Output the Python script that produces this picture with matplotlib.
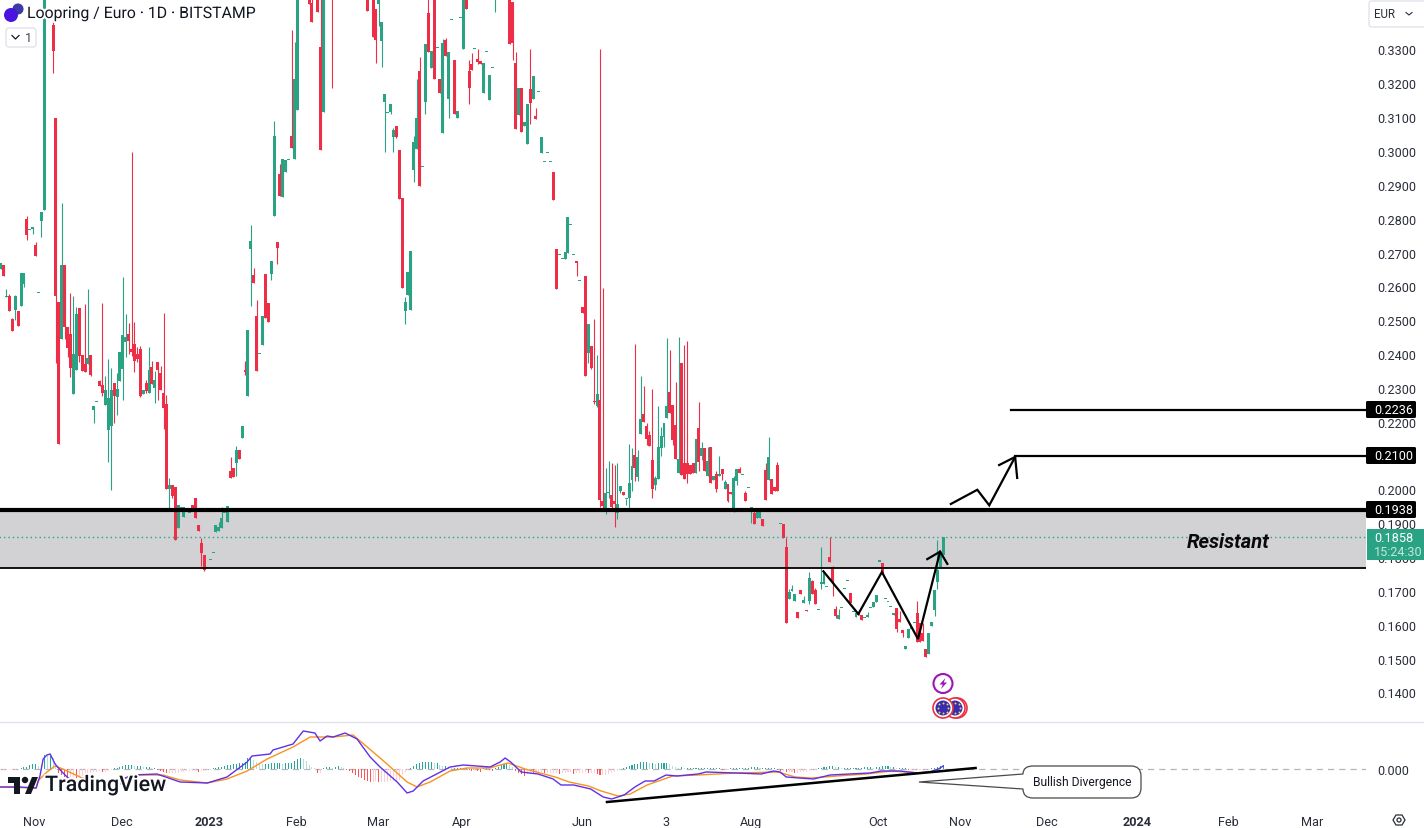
import numpy as np
import matplotlib
matplotlib.use('Agg')
from matplotlib import pyplot as plt
from matplotlib.patches import Circle, FancyBboxPatch, PathPatch, Polygon, Rectangle
from matplotlib.path import Path
import matplotlib.patheffects as pe

plt.rcParams['font.family'] = ['Roboto', 'DejaVu Sans']

# daily candles, left to right (values above 0.345 run off the top of the chart)
opens = [
    .2652,.2664,.2569,.2572,.2504,.2530,.2527,.2542,.2607,.2800,
    .2767,.2771,.2723,.2579,.2794,.2826,.3520,.3540,.3371,.3099,
    .2554,.2445,.2664,.2480,.2459,.2282,.2353,.2536,.2397,.2370,
    .2370,.2397,.2234,.2258,.2320,.2308,.2249,.2175,.2187,.2314,
    .2273,.2320,.2356,.2436,.2459,.2415,.2430,.2400,.2415,.2282,
    .2314,.2285,.2362,.2299,.2376,.2344,.2285,.2252,.2001,.2012,
    .2006,.1885,.1944,.1918,.1939,.1930,.1953,.1974,.1894,.1841,
    .1805,.1767,.1790,.1811,.1873,.1876,.1885,.1930,.1903,.2054,
    .2063,.2077,.2116,.2151,.2353,.2276,.2711,.2634,.2513,.2400,
    .2427,.2637,.2551,.2637,.2809,.2732,.2933,.2865,.2939,.2974,
    .3045,.2977,.3122,.3520,.3520,.3520,.3500,.3436,.3540,.3500,
    .3306,.3114,.3540,.3540,.3470,.3540,.3540,.3540,.3540,.3540,
    .3540,.3540,.3540,.3540,.3540,.3540,.3500,.3448,.3500,.3421,
    .3433,.3324,.3146,.3113,.3116,.3040,.3075,.3004,.2862,.2527,
    .2575,.2530,.2945,.3007,.3235,.2954,.3146,.3407,.3244,.3470,
    .3303,.3214,.3054,.3327,.3155,.3386,.3270,.3099,.3392,.3300,
    .3470,.3235,.3256,.3300,.3273,.3267,.3170,.3294,.3152,.3244,
    .3460,.3540,.3540,.3540,.3540,.3500,.3439,.3259,.3105,.3187,
    .3075,.3022,.3182,.3155,.3102,.3173,.2995,.2968,.2995,.2968,
    .2939,.2711,.2693,.2681,.2681,.2699,.2782,.2693,.2675,.2616,
    .2539,.2631,.2403,.2424,.2261,.2246,.2264,.1965,.1932,.1989,
    .1983,.1965,.1930,.1995,.1992,.1971,.1974,.2027,.2101,.2036,
    .2163,.2223,.2187,.2160,.2086,.2012,.2030,.2122,.2154,.2211,
    .2288,.2249,.2190,.2048,.2374,.2078,.2078,.2072,.2078,.2048,
    .2181,.2098,.2122,.2039,.2125,.2027,.2045,.2039,.2060,.2001,
    .2015,.1992,.1932,.2024,.2060,.2042,.1989,.2004,.1939,.1930,
    .1915,.1915,.1912,.2057,.2027,.2030,.2006,.2072,.1897,.1897,
    .1829,.1675,.1701,.1669,.1639,.1704,.1663,.1645,.1669,.1728,
    .1704,.1645,.1722,.1722,.1713,.1799,.1770,.1648,.1616,.1651,
    .1707,.1728,.1693,.1639,.1622,.1639,.1630,.1619,.1622,.1651,
    .1654,.1666,.1787,.1784,.1675,.1666,.1654,.1630,.1651,.1616,
    .1586,.1527,.1562,.1589,.1604,.1636,.1604,.1577,.1527,.1515,
    .1596,.1645,.1725,.1770,.1805]
highs = [
    .2670,.2664,.2592,.2578,.2507,.2575,.2527,.2640,.2640,.2809,
    .2767,.2776,.2732,.2579,.2820,.3500,.3560,.3540,.3395,.3099,
    .2554,.2847,.2664,.2480,.2581,.2572,.2539,.2536,.2397,.2548,
    .2592,.2397,.2246,.2258,.2323,.2551,.2335,.2385,.2359,.2314,
    .2344,.2406,.2628,.2519,.2492,.2998,.2495,.2421,.2424,.2294,
    .2323,.2421,.2379,.2350,.2376,.2365,.2521,.2279,.2033,.2012,
    .2006,.1953,.1944,.1947,.1939,.1930,.1953,.1974,.1894,.1855,
    .1805,.1767,.1790,.1811,.1894,.1903,.1947,.1930,.1950,.2095,
    .2063,.2128,.2116,.2187,.2379,.2471,.2782,.2655,.2560,.2400,
    .2513,.2637,.2551,.2675,.3090,.2732,.2963,.2977,.2974,.2974,
    .3359,.3321,.3500,.3560,.3560,.3560,.3500,.3460,.3540,.3500,
    .3500,.3500,.3540,.3540,.3470,.3540,.3540,.3540,.3540,.3540,
    .3540,.3540,.3540,.3540,.3540,.3540,.3500,.3448,.3500,.3421,
    .3500,.3380,.3167,.3113,.3140,.3069,.3075,.3004,.2862,.2569,
    .2643,.2705,.3045,.3214,.3279,.2954,.3315,.3460,.3297,.3470,
    .3303,.3214,.3330,.3335,.3294,.3386,.3270,.3119,.3392,.3470,
    .3470,.3270,.3291,.3300,.3300,.3267,.3259,.3294,.3226,.3244,
    .3500,.3540,.3540,.3540,.3540,.3500,.3439,.3294,.3187,.3187,
    .3087,.3140,.3300,.3223,.3128,.3173,.3040,.2968,.2995,.2968,
    .2939,.2711,.2693,.2681,.2702,.2806,.2782,.2693,.2675,.2616,
    .2539,.2631,.2489,.2424,.2504,.2397,.3300,.2596,.2063,.2084,
    .2078,.2072,.2078,.2009,.1992,.1971,.2134,.2122,.2430,.2116,
    .2335,.2305,.2196,.2172,.2297,.2039,.2246,.2184,.2196,.2448,
    .2412,.2249,.2317,.2450,.2374,.2427,.2439,.2072,.2078,.2149,
    .2258,.2140,.2122,.2125,.2125,.2039,.2054,.2098,.2060,.2027,
    .2015,.1992,.2039,.2060,.2066,.2042,.1995,.2004,.1947,.1938,
    .1935,.1935,.1912,.2078,.2154,.2030,.2006,.2081,.1897,.1897,
    .1855,.1707,.1719,.1690,.1639,.1704,.1684,.1645,.1755,.1733,
    .1710,.1645,.1829,.1752,.1713,.1858,.1773,.1657,.1648,.1651,
    .1707,.1728,.1693,.1639,.1636,.1639,.1630,.1619,.1639,.1651,
    .1666,.1687,.1787,.1784,.1675,.1666,.1654,.1636,.1651,.1642,
    .1586,.1536,.1589,.1589,.1604,.1669,.1604,.1604,.1527,.1577,
    .1607,.1702,.1852,.1814,.1858]
lows = [
    .2652,.2631,.2569,.2527,.2468,.2501,.2483,.2542,.2598,.2738,
    .2767,.2755,.2690,.2579,.2746,.2826,.3520,.3500,.3232,.2374,
    .2134,.2445,.2445,.2391,.2332,.2282,.2353,.2376,.2350,.2347,
    .2370,.2335,.2196,.2258,.2305,.2276,.2249,.2080,.1998,.2196,
    .2220,.2320,.2264,.2391,.2400,.2394,.2347,.2376,.2273,.2282,
    .2285,.2285,.2311,.2255,.2264,.2294,.2178,.2001,.1944,.1974,
    .1852,.1885,.1944,.1918,.1939,.1930,.1944,.1915,.1876,.1773,
    .1758,.1767,.1790,.1811,.1873,.1876,.1885,.1930,.1903,.2033,
    .2036,.2039,.2089,.2151,.2338,.2276,.2542,.2610,.2350,.2400,
    .2427,.2507,.2495,.2619,.2809,.2667,.2868,.2865,.2939,.2974,
    .3010,.2977,.3122,.3520,.3520,.3520,.3433,.3380,.3500,.3410,
    .3004,.3114,.3500,.3500,.3185,.3500,.3500,.3500,.3500,.3500,
    .3500,.3500,.3500,.3500,.3500,.3500,.3415,.3448,.3338,.3261,
    .3368,.3247,.2998,.3113,.3110,.2998,.3037,.2859,.2595,.2489,
    .2575,.2530,.2909,.3007,.2897,.2954,.3110,.3294,.3244,.3214,
    .3303,.3170,.3054,.3282,.3099,.3386,.3108,.3099,.3392,.3300,
    .3421,.3140,.3238,.3300,.3256,.3256,.3170,.3294,.3152,.3244,
    .3412,.3500,.3500,.3500,.3500,.3315,.3270,.3066,.3105,.3057,
    .3075,.3022,.3081,.3155,.3096,.3173,.2995,.2968,.2995,.2968,
    .2856,.2592,.2693,.2681,.2681,.2699,.2782,.2693,.2631,.2616,
    .2521,.2335,.2374,.2356,.2252,.2243,.1947,.1938,.1927,.1974,
    .1935,.1888,.1912,.1989,.1983,.1953,.1944,.1995,.2024,.2024,
    .2163,.2199,.2131,.2128,.1974,.1998,.2030,.2100,.2125,.2211,
    .2226,.2131,.2089,.2048,.2042,.2030,.2018,.2045,.2048,.2048,
    .2054,.2086,.2054,.2039,.2018,.2027,.1992,.2039,.2027,.2001,
    .1962,.1986,.1932,.2012,.2048,.2042,.1965,.2004,.1900,.1897,
    .1915,.1915,.1891,.1968,.2027,.1986,.1995,.1995,.1897,.1855,
    .1604,.1675,.1701,.1669,.1619,.1690,.1663,.1640,.1660,.1690,
    .1660,.1645,.1707,.1722,.1713,.1785,.1684,.1619,.1616,.1651,
    .1707,.1728,.1663,.1639,.1622,.1628,.1613,.1619,.1622,.1651,
    .1654,.1666,.1787,.1749,.1675,.1666,.1654,.1630,.1580,.1607,
    .1565,.1527,.1562,.1589,.1604,.1548,.1548,.1553,.1506,.1515,
    .1596,.1625,.1707,.1770,.1805]
closes = [
    .2670,.2631,.2569,.2527,.2468,.2572,.2483,.2640,.2640,.2752,
    .2767,.2776,.2690,.2579,.2820,.3500,.3560,.3500,.3297,.2572,
    .2134,.2664,.2480,.2418,.2359,.2400,.2519,.2394,.2350,.2347,
    .2388,.2338,.2246,.2258,.2305,.2285,.2294,.2270,.2294,.2276,
    .2297,.2406,.2456,.2450,.2439,.2406,.2379,.2385,.2276,.2294,
    .2291,.2353,.2311,.2323,.2353,.2294,.2240,.2001,.2012,.1980,
    .1852,.1953,.1944,.1947,.1939,.1930,.1944,.1915,.1876,.1811,
    .1761,.1767,.1790,.1811,.1894,.1888,.1915,.1930,.1950,.2033,
    .2036,.2116,.2089,.2187,.2347,.2471,.2735,.2610,.2350,.2400,
    .2513,.2507,.2495,.2675,.3045,.2714,.2868,.2977,.2974,.2974,
    .3010,.3214,.3500,.3560,.3560,.3560,.3433,.3380,.3500,.3410,
    .3004,.3500,.3500,.3500,.3460,.3500,.3500,.3500,.3500,.3500,
    .3500,.3500,.3500,.3500,.3500,.3500,.3415,.3448,.3338,.3327,
    .3500,.3380,.3167,.3113,.3140,.3063,.3040,.2859,.2595,.2554,
    .2643,.2705,.3028,.3099,.2897,.2954,.3315,.3294,.3297,.3214,
    .3303,.3170,.3318,.3282,.3294,.3386,.3108,.3119,.3392,.3470,
    .3421,.3185,.3238,.3300,.3264,.3256,.3259,.3294,.3226,.3244,
    .3500,.3500,.3500,.3500,.3500,.3315,.3318,.3066,.3187,.3057,
    .3087,.3140,.3143,.3223,.3096,.3173,.3040,.2968,.2995,.2968,
    .2856,.2592,.2693,.2681,.2702,.2806,.2782,.2693,.2669,.2616,
    .2521,.2335,.2489,.2359,.2258,.2282,.1968,.1950,.1989,.1989,
    .1947,.1956,.1956,.2009,.1983,.1971,.2018,.2068,.2063,.2095,
    .2208,.2199,.2149,.2128,.2001,.2033,.2125,.2157,.2196,.2246,
    .2226,.2146,.2089,.2089,.2042,.2030,.2045,.2045,.2048,.2149,
    .2081,.2122,.2054,.2083,.2018,.2039,.2001,.2045,.2045,.2021,
    .1965,.1986,.2033,.2060,.2048,.2042,.1965,.2004,.1947,.1897,
    .1935,.1935,.1891,.1968,.2095,.1986,.1995,.1995,.1897,.1855,
    .1604,.1696,.1707,.1690,.1619,.1690,.1672,.1640,.1737,.1690,
    .1660,.1645,.1722,.1752,.1713,.1787,.1728,.1625,.1630,.1651,
    .1707,.1728,.1663,.1639,.1636,.1628,.1613,.1619,.1630,.1651,
    .1666,.1687,.1787,.1749,.1675,.1666,.1654,.1636,.1589,.1607,
    .1577,.1536,.1589,.1589,.1604,.1548,.1548,.1553,.1506,.1577,
    .1607,.1702,.1761,.1814,.1858]

# MACD pane
macd_x = [0,6.6,12.2,13.5,14.6,15.9,17,18.7,21.1,23.2,27.3,34.2,41,42.1,45.2,53.7,61.7,71,77.8,84.7,
          86.4,92.6,93.6,100.5,104,108,109.8,112.2,114.3,118.4,122.5,127,130.4,136.3,139.7,141.8,145.2,
          154.5,159,168.2,171.7,173.4,175.3,178.9,184.7,189.9,192.6,197,202.8,207.1,210,214.3,218,221.5,
          224.6,228.7,232.5,239.7,242.5,252.8,261.4,265.7,267.9,270,274.5,279.4,285.1,291.7,298.8,302.7,
          309.2,315,319.2,322.3,324]
macd_y = [-.018,-.018,-.019,-.007,.010,.014,.015,.005,-.003,-.009,-.014,-.016,-.015,-.010,-.006,-.005,-.013,-.014,-.008,.007,
          .013,.015,.019,.025,.038,.036,.028,.033,.032,.036,.030,.012,.002,-.013,-.024,-.022,-.012,
          .002,.004,.002,.007,.011,.007,-.003,-.005,-.010,-.016,-.016,-.020,-.028,-.030,-.026,-.018,-.012,
          -.012,-.006,-.007,-.005,-.003,-.004,-.005,-.002,-.003,-.008,-.009,-.010,-.006,-.005,-.004,-.002,
          -.002,-.004,-.003,0,.003]
signal_x = [0,12.2,12.8,15.9,18.7,21.4,28,37.6,42.7,47.9,55.8,61.7,71,77.8,84.7,91.6,100.5,106.4,114.3,121.1,
            126,132.8,139.7,143.1,147.6,154.5,160.3,168.2,171.7,174.4,180.3,190.6,195.4,202,206.4,212.2,216.4,
            222.2,231,239.7,252.8,267.2,273.1,278.6,287.5,297.5,306.1,316.4,324]
signal_y = [-.018,-.019,-.012,-.003,.003,0,-.009,-.012,-.009,-.006,-.006,-.011,-.014,-.010,-.002,.010,.022,.032,.032,.034,
            .022,.005,-.013,-.018,-.013,-.002,.001,.001,.004,.006,0,-.008,-.013,-.017,-.022,-.027,-.025,
            -.016,-.007,-.006,-.004,-.003,-.008,-.009,-.007,-.005,-.002,-.004,-.002]
hist_vals = [
    -1,-1,-1,-1,-1,-1,-1,1,2,2, 4,5,5,3,4,14,13,13,11,6,
    -4,-6,-8,-9,-8,-8,-9,-8,-7,-6, -5,-4,-3,-3,-2,-3,-3,-2,-1,1,
    1,2,3,4,4,4,3,3,3,2, 2,2,1,1,-1,-2,-3,-4,-4,-4,
    -4,-4,-3,-3,-2,-2,-2,-2,-3,-2, -2,-1,-1,1,1,2,2,3,4,4,
    5,5,6,6,7,11,11,9,7,6, 5,5,5,6,6,6,6,5,6,6,
    6,8,10,11,10,8,4,2,1,-4, -4,1,2,2,1,2,3,2,1,-1,
    -2,-4,-6,-8,-9,-11,-12,-13,-13,-12, -13,-13,-13,-13,-12,-12,-12,-11,-6,-3,
    -1,1,3,5,6,7,7,7,7,6, 6,4,3,3,2,1,1,1,1,1,
    1,-1,-2,-1,-2,-3,1,3,-1,-2, 1,2,4,5,5,4,2,-2,-4,-5,
    -7,-5,-4,-5,-4,-3,-3,-4,-4,-4, -4,-4,-5,-4,-4,-3,-3,-5,-4,-4,
    -4,-3,-4,-4,-4,-5,-6,-6,-6,-5, -4,-3,-2,-1,1,2,3,4,5,5,
    7,7,7,6,6,5,6,6,6,6, 5,3,2,1,2,1,1,1,1,1,
    1,1,1,1,1,1,1,1,-1,-1, -1,1,1,1,1,1,1,1,2,2,
    2,1,1,1,1,1,1,-1,-2,-2, -3,-3,-3,-4,-4,-3,-3,-3,-2,-1,
    -1,1,1,2,2,3,3,2,2,1, 1,1,1,1,1,1,1,2,2,2,
    1,2,2,3,3,3,2,2,1,1, 1,1,-1,-1,-1,-1,-1,-1,-1,-1,
    1,1,2,3,4]

price_ticks = [.33,.32,.31,.30,.29,.28,.27,.26,.25,.24,.23,.22,.21,.20,.19,.18,.17,.16,.15,.14]
time_pos = [11.5,41.7,71.6,101.5,129.7,158.6,199.8,228.7,257.9,301.6,329.8,359.7,390.6,421.9,450.8]
time_labels = ['Nov','Dec','2023','Feb','Mar','Apr','Jun','3','Aug','Oct','Nov','Dec','2024','Feb','Mar']

# drawings on the chart
resist_top = .1938
resist_bottom = .1767
last_price = .1858
target_low = .2100
target_high = .2236
w_x = [282.8,294.8,302.9,315.3,322.9]
w_y = [.1758,.1632,.1756,.1558,.1816]
w_head_x = [318.5,322.9,325.4]
w_head_y = [.1794,.1816,.1780]
up_x = [326.6,335.7,339.8,348.7]
up_y = [.1957,.1999,.1953,.2096]
up_head_x = [343.2,348.7,349.4]
up_head_y = [.2072,.2096,.2034]
div_x = [208.4,335.1]
div_y = [-.033,.001]

GREEN = '#2aa385'
RED = '#ee2d47'
TEXT = '#2a2e39'

W, H = 1424, 829
fig = plt.figure(figsize=(W / 100, H / 100), dpi=100, facecolor='white')
ax = fig.add_axes([0, 1 - 722 / H, 1366 / W, 722 / H])
ax2 = fig.add_axes([0, 1 - 813 / H, 1366 / W, 91 / H], sharex=ax)
ui = fig.add_axes([0, 0, 1, 1], zorder=10)
ui.set_xlim(0, W)
ui.set_ylim(H, 0)
ui.axis('off')
ui.patch.set_alpha(0)

# price pane
o = np.array(opens)
h = np.array(highs)
l = np.array(lows)
c = np.array(closes)
x = np.arange(len(o))
up = c >= o
colors = np.where(up, GREEN, RED)
ax.axhspan(resist_bottom, resist_top, color='#d2d2d5', lw=0, zorder=1)
ax.vlines(x, l, h, colors=colors, lw=0.8, zorder=2)
body_h = np.maximum(np.abs(c - o), 0.0003)
ax.bar(x, body_h, bottom=np.minimum(o, c), width=1.02, color=colors, lw=0, zorder=3, antialiased=False)
ax.plot([-5, 500], [last_price, last_price], color=GREEN, lw=1, ls=(0, (1, 2.2)), zorder=4)
ax.axhline(resist_top, color='black', lw=3, zorder=5)
ax.axhline(resist_bottom, color='black', lw=1.3, zorder=5)
ax.plot([347.3, 500], [target_high, target_high], color='black', lw=1.6, zorder=5)
ax.plot([348.7, 500], [target_low, target_low], color='black', lw=1.6, zorder=5)
for xs, ys in [(w_x, w_y), (w_head_x, w_head_y), (up_x, up_y), (up_head_x, up_head_y)]:
    ax.plot(xs, ys, color='black', lw=1.6, zorder=6, solid_joinstyle='miter')
ax.set_xlim(-0.23, 469.3)
ax.set_ylim(.13157, .34492)
ax.yaxis.tick_right()
ax.set_yticks(price_ticks)
ax.set_yticklabels(['%.4f' % p for p in price_ticks], va='center_baseline')
ax.tick_params(axis='y', length=0, pad=8, labelsize=9.1, labelcolor=TEXT)
ax.tick_params(axis='x', length=0, labelbottom=False)
for s in ax.spines.values():
    s.set_visible(False)

# macd pane
hv = np.array(hist_vals) / 1000
hx = np.arange(len(hv))
prev = np.r_[hv[0], hv[:-1]]
hcol = []
for v, p in zip(hv, prev):
    if v >= 0:
        hcol.append('#26a69a' if v >= p else '#b2dfdb')
    else:
        hcol.append('#ff5252' if v < p else '#ffcdd2')
ax2.axhline(0, color='#b2b5be', lw=0.9, ls=(0, (5, 4)), zorder=1)
ax2.bar(hx, hv, width=0.36, color=hcol, lw=0, zorder=2)
ax2.plot(signal_x, signal_y, color='#f7931e', lw=1.0, zorder=3)
ax2.plot(macd_x, macd_y, color='#5f30ea', lw=1.0, zorder=4)
ax2.plot(div_x, div_y, color='black', lw=1.8, zorder=5)
ax2.set_ylim(-.043, .048)
ax2.yaxis.tick_right()
ax2.set_yticks([0])
ax2.set_yticklabels(['0.000'])
ax2.tick_params(axis='y', length=0, pad=8, labelsize=9.1, labelcolor=TEXT)
ax2.set_xticks(time_pos)
ax2.set_xticklabels(time_labels)
ax2.tick_params(axis='x', length=0, pad=2, labelsize=9.1, labelcolor=TEXT)
for t in ax2.get_xticklabels():
    if t.get_text() in ('2023', '2024'):
        t.set_fontweight('bold')
for s in ax2.spines.values():
    s.set_visible(False)

# pane separator
ui.plot([0, W], [722.5, 722.5], color='#e0e3eb', lw=1)

# header
ui.text(27, 14.5, 'Loopring / Euro · 1D · BITSTAMP', fontsize=11.4, color='#131722', va='center', ha='left',
        path_effects=[pe.withStroke(linewidth=3, foreground='white')])
ui.add_patch(Circle((18, 10), 6, facecolor='#3b3ba8', edgecolor='white', lw=0.6))
ui.add_patch(Circle((11, 16), 7, color='#4a14e0', lw=0))
ui.add_patch(FancyBboxPatch((6, 29), 30, 19, boxstyle='round,pad=0,rounding_size=3', fc='white', ec='#e0e3eb', lw=1))
ui.plot([12, 15.5, 19], [36.5, 40, 36.5], color='#131722', lw=0.9)
ui.text(28, 38.5, '1', fontsize=9.1, color='#434651', ha='center', va='center')
ui.add_patch(FancyBboxPatch((1369, 2), 60, 26, boxstyle='round,pad=0,rounding_size=3', fc='white', ec='#e0e3eb', lw=1))
ui.text(1374, 14.5, 'EUR', fontsize=8.3, color=TEXT, ha='left', va='center')
ui.plot([1406, 1409, 1412], [13.5, 16, 13.5], color=TEXT, lw=0.8)

# price tags
for val, yc in [('0.2236', 410.5), ('0.2100', 456.5), ('0.1938', 510.5)]:
    ui.add_patch(FancyBboxPatch((1366, yc - 8.5), 50, 17, boxstyle='round,pad=0,rounding_size=1.5', fc='black', ec='none'))
    ui.text(1374, yc + 0.5, val, fontsize=9.1, color='white', ha='left', va='center')
ui.add_patch(Rectangle((1367, 530), 57, 31, fc=GREEN, ec='none'))
ui.text(1374, 538.5, '0.1858', fontsize=9.1, color='white', ha='left', va='center')
ui.text(1374, 552.5, '15:24:30', fontsize=9.1, color='#c4e6dc', ha='left', va='center')
ui.text(1187, 542.5, 'Resistant', fontsize=14.5, fontweight='bold', fontstyle='italic', color='#0a0a0a', ha='left', va='center')

# indicator badges
ui.add_patch(Circle((943, 684.5), 9.5, fc='white', ec='#9c14b8', lw=1.5))
ui.add_patch(Polygon([(945.5, 679), (939.5, 685.5), (942.8, 685.5), (941, 690), (947, 683.5), (943.7, 683.5)], fc='#9c14b8', lw=0))
for cx in [957, 955, 943]:
    ui.add_patch(Circle((cx, 709), 10, fc='white', ec='#e8333f', lw=1.2))
    ui.add_patch(Circle((cx, 709), 7.5, fc='#3a2cb0', ec='none'))
    ang = np.linspace(0, 2 * np.pi, 8, endpoint=False)
    ui.scatter(cx + 5 * np.cos(ang), 709 + 5 * np.sin(ang), s=2, color='#e6d84a', lw=0)

# callout
verts = [(1033, 767), (1131, 767), (1141, 767), (1141, 777), (1141, 789), (1141, 799), (1131, 799), (1033, 799),
         (1023, 799), (1023, 790), (919, 783), (1023, 775), (1023, 767), (1033, 767), (1033, 767)]
codes = [Path.MOVETO, Path.LINETO, Path.CURVE3, Path.CURVE3, Path.LINETO, Path.CURVE3, Path.CURVE3, Path.LINETO,
         Path.CURVE3, Path.CURVE3, Path.LINETO, Path.LINETO, Path.CURVE3, Path.CURVE3, Path.CLOSEPOLY]
ui.add_patch(PathPatch(Path(verts, codes), fc='white', ec='#4a4a4a', lw=0.9))
ui.text(1082, 783, 'Bullish Divergence', fontsize=8.7, color='#131722', ha='center', va='center')

# tradingview mark, with the white patch the logo sits on
ui.add_patch(Rectangle((68, 779), 52, 19, fc='white', ec='none'))
ui.add_patch(Polygon([(8, 778), (20, 778), (20, 795), (14, 795), (14, 784), (8, 784)], fc='#131722', ec='white', lw=0))
ui.add_patch(Circle((25, 781), 3.2, fc='#131722', lw=0))
ui.add_patch(Polygon([(25, 795), (32, 778), (38, 778), (31, 795)], fc='#131722', lw=0))
ui.text(45, 786.5, 'TradingView', fontsize=15.5, fontweight='medium', color='#131722', ha='left', va='center',
        path_effects=[pe.withStroke(linewidth=2.5, foreground='white')])

# settings gear
ui.add_patch(Polygon([(1393, 821), (1396, 816), (1402, 816), (1405, 821), (1402, 826), (1396, 826)], fc='white', ec='#2a2e39', lw=0.9))
ui.add_patch(Circle((1399, 821), 2, fc='white', ec='#2a2e39', lw=0.9))

fig.savefig('out.png', dpi=100)
